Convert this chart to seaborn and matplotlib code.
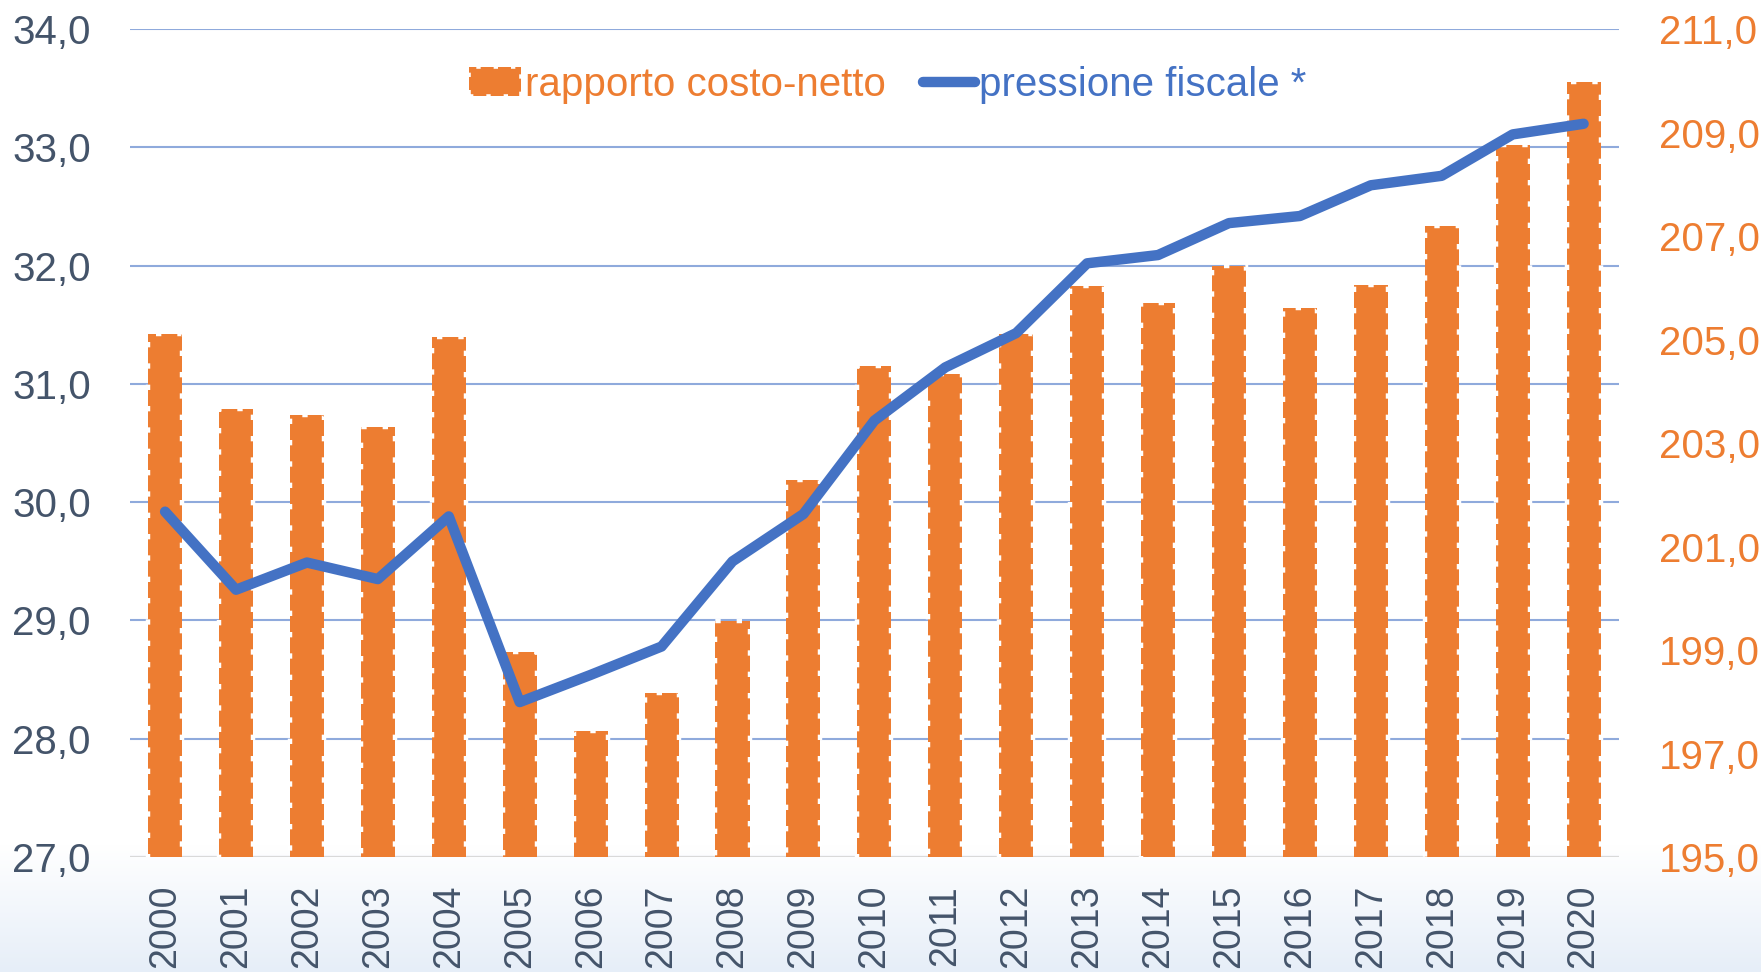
import numpy as np
import pandas as pd
import matplotlib
matplotlib.use("Agg")
import matplotlib.pyplot as plt
import seaborn as sns
from matplotlib.patches import Patch
from matplotlib.lines import Line2D

years = list(range(2000, 2021))
rapporto = [205.10, 203.66, 203.55, 203.32, 205.05, 198.97, 197.43, 198.17, 199.56, 202.29,
            204.49, 204.34, 205.10, 206.03, 205.70, 206.42, 205.62, 206.05, 207.20, 208.76, 209.98]
pressione = [29.92, 29.26, 29.49, 29.35, 29.88, 28.31, 28.54, 28.78, 29.50, 29.90,
             30.69, 31.14, 31.43, 32.02, 32.09, 32.36, 32.42, 32.68, 32.76, 33.11, 33.20]
left_ticks = [27, 28, 29, 30, 31, 32, 33, 34]
right_ticks = [195, 197, 199, 201, 203, 205, 207, 209, 211]
label_bar = "rapporto costo-netto"
label_line = "pressione fiscale *"

ORANGE = "#ed7d31"
BLUE = "#4472c4"
SLATE = "#44546a"
GRID = "#8faadc"

sns.set_theme(style="white")
plt.rcParams['font.family'] = ['Liberation Sans Narrow', 'Liberation Sans', 'DejaVu Sans']

df = pd.DataFrame({"anno": years, "rapporto": rapporto, "pressione": pressione})

fig = plt.figure(figsize=(17.61, 9.72), dpi=100)

# background gradient at the bottom
bg = fig.add_axes([0, 0, 1, 1], zorder=-10)
grad = np.ones((972, 1, 3))
top_c = np.array([1.0, 1.0, 1.0])
bot_c = np.array([0xe6, 0xee, 0xf8]) / 255.0
start = 845
for r in range(972):
    if r >= start:
        t = (r - start) / (972 - start)
        grad[r, 0, :] = top_c * (1 - t) + bot_c * t
bg.imshow(grad, aspect='auto', extent=[0, 1, 0, 1], origin='upper')
bg.axis('off')

rect = [0.0736, 0.1183, 0.9194 - 0.0736, 0.970 - 0.1183]

# base axes: left scale, grid, left tick labels, x labels
ax = fig.add_axes(rect)
ax.patch.set_alpha(0)
ax.set_ylim(27, 34)
ax.set_yticks(left_ticks)
ax.set_yticklabels([f"{v:.1f}".replace(".", ",") for v in left_ticks])
ax.grid(axis='y', color=GRID, linewidth=1.5)
ax.grid(axis='x', visible=False)

# bars on right-hand scale
axb = ax.twinx()
sns.barplot(data=df, x="anno", y="rapporto", color=ORANGE, saturation=1, width=0.48,
            edgecolor="white", linewidth=3.2, linestyle=(0, (1.2, 3.6)), ax=axb, zorder=3)
axb.set_ylim(195, 211)
axb.set_yticks(right_ticks)
axb.set_yticklabels([f"{v:.1f}".replace(".", ",") for v in right_ticks])
axb.set_xlim(-0.5, len(years) - 0.5)
axb.set_xlabel("")
axb.set_ylabel("")
axb.grid(False)
axb.axhline(195, color="#d9d9d9", linewidth=1.5, zorder=2)

# line on left-hand scale, on top
axl = ax.twinx()
sns.lineplot(x=np.arange(len(years)), y=pressione, color=BLUE, linewidth=7.5,
             solid_capstyle='round', solid_joinstyle='round', ax=axl, zorder=5)
axl.set_ylim(27, 34)
axl.set_yticks([])
axl.grid(False)

for a in (ax, axb, axl):
    for s in a.spines.values():
        s.set_visible(False)

ax.yaxis.tick_left()
axb.yaxis.tick_right()
ax.tick_params(axis='y', colors=SLATE, labelsize=29, length=0, pad=28, left=False, right=False,
               labelleft=True, labelright=False)
axb.tick_params(axis='y', colors=ORANGE, labelsize=29, length=0, pad=29, left=False, right=False,
                labelleft=False, labelright=True)
for a in (ax, axb, axl):
    a.tick_params(axis='x', colors=SLATE, labelsize=27, length=0, pad=20, labelrotation=90)

handles = [Patch(facecolor=ORANGE, edgecolor="white", linewidth=2.6, linestyle=(0, (1.2, 3.6))),
           Line2D([], [], color=BLUE, linewidth=7.5, solid_capstyle='round')]
leg = axl.legend(handles, [label_bar, label_line], ncol=2, frameon=False,
                 loc='center', bbox_to_anchor=(0.509, 0.933), fontsize=29,
                 handlelength=1.3, handletextpad=0.1, columnspacing=0.9,
                 labelcolor=[ORANGE, BLUE])

fig.savefig("out.png", dpi=100)
